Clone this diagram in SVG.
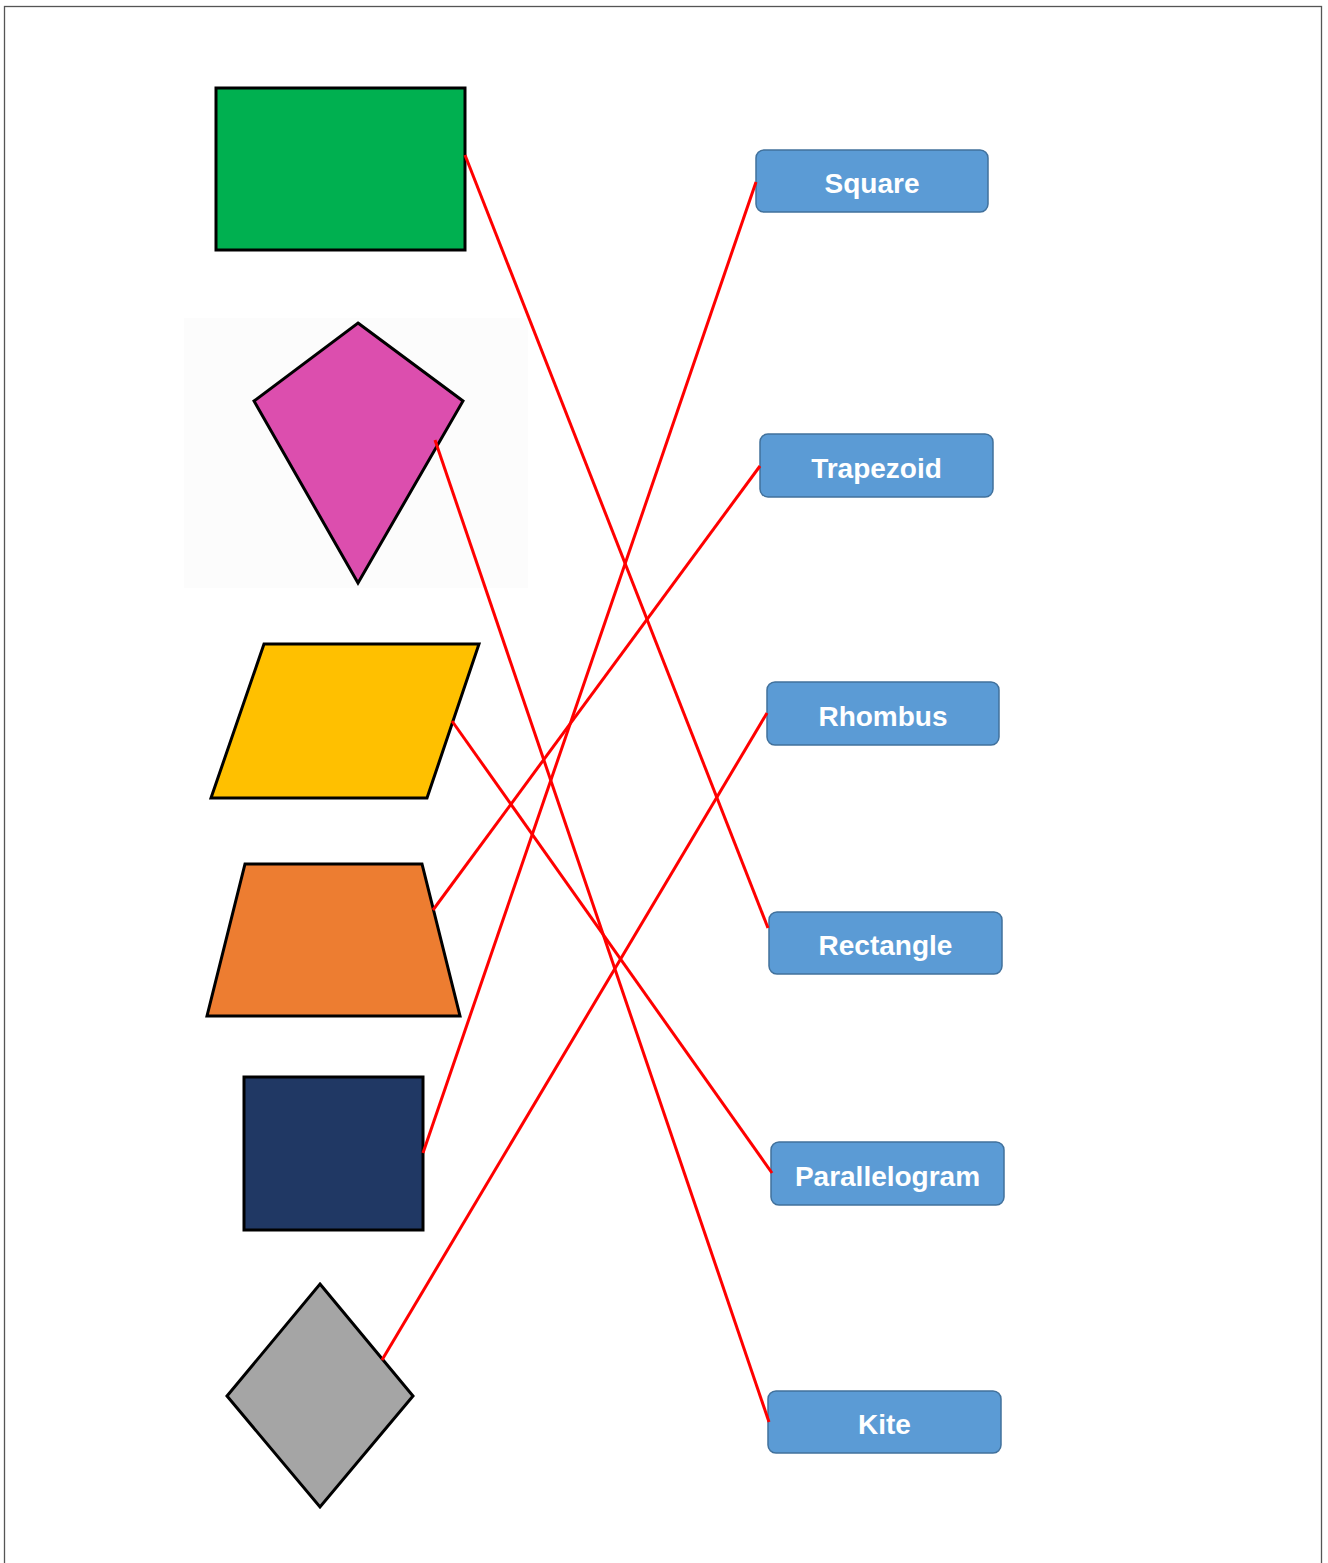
<svg xmlns="http://www.w3.org/2000/svg" width="1328" height="1563" viewBox="0 0 1328 1563">
<style>
.shape{stroke:#000;stroke-width:3;stroke-linejoin:miter}
.box{fill:#5B9BD5;stroke:#41719C;stroke-width:1.5}
.lbl{fill:#fff;font-family:"Liberation Sans",Arial,sans-serif;font-weight:bold;font-size:28px;text-anchor:middle}
.link{stroke:#FF0000;stroke-width:3;fill:none}
</style>
<rect x="0" y="0" width="1328" height="1563" fill="#fff"/>
<rect x="4.5" y="6.5" width="1317" height="1620" fill="none" stroke="#555" stroke-width="1.3"/>

<g id="shape-rectangle"><rect class="shape" x="216" y="88" width="249" height="162" fill="#00B050"/></g>
<g id="shape-kite">
<rect x="184" y="318" width="344" height="270" fill="#FCFCFC"/>
<polygon class="shape" points="358,323 463,401 358,583 254,401" fill="#DC4EAE"/>
</g>
<g id="shape-parallelogram"><polygon class="shape" points="264,644 479,644 427,798 211,798" fill="#FFC000"/></g>
<g id="shape-trapezoid"><polygon class="shape" points="245,864 422,864 460,1016 207,1016" fill="#ED7D31"/></g>
<g id="shape-square"><rect class="shape" x="244" y="1077" width="179" height="153" fill="#203864"/></g>
<g id="shape-rhombus"><polygon class="shape" points="320,1284 413,1396 320,1507 227,1396" fill="#A5A5A5"/></g>

<g id="label-square"><rect class="box" x="756" y="150" width="232" height="62" rx="8"/><text class="lbl" x="872" y="193">Square</text></g>
<g id="label-trapezoid"><rect class="box" x="760" y="434" width="233" height="63" rx="8"/><text class="lbl" x="876.5" y="477.5">Trapezoid</text></g>
<g id="label-rhombus"><rect class="box" x="767" y="682" width="232" height="63" rx="8"/><text class="lbl" x="883" y="725.5">Rhombus</text></g>
<g id="label-rectangle"><rect class="box" x="769" y="912" width="233" height="62" rx="8"/><text class="lbl" x="885.5" y="955">Rectangle</text></g>
<g id="label-parallelogram"><rect class="box" x="771" y="1142" width="233" height="63" rx="8"/><text class="lbl" x="887.5" y="1185.5">Parallelogram</text></g>
<g id="label-kite"><rect class="box" x="768" y="1391" width="233" height="62" rx="8"/><text class="lbl" x="884.5" y="1434">Kite</text></g>

<g id="connectors">
<line class="link" x1="465" y1="155" x2="768" y2="928"/>
<line class="link" x1="435" y1="440" x2="769" y2="1422"/>
<line class="link" x1="452" y1="721" x2="772" y2="1173"/>
<line class="link" x1="433" y1="910" x2="760" y2="466"/>
<line class="link" x1="423" y1="1153" x2="756" y2="182"/>
<line class="link" x1="382" y1="1360" x2="767" y2="713"/>
</g>
</svg>
